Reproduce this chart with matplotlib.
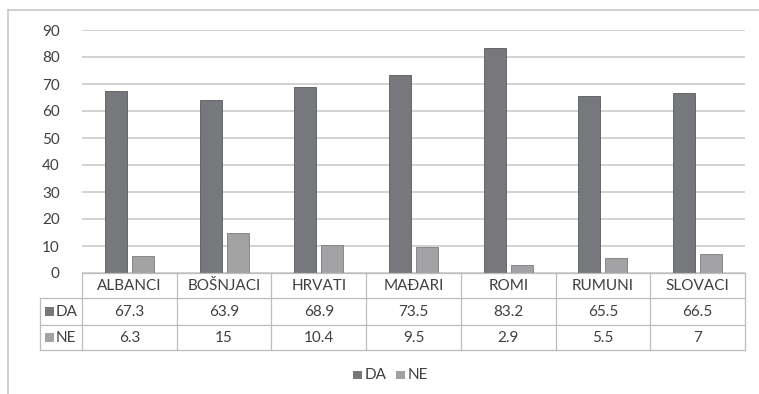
import matplotlib.pyplot as plt
from matplotlib.lines import Line2D
from matplotlib.patches import Rectangle

plt.rcParams['font.family'] = ['Lato', 'DejaVu Sans']

groups = ['ALBANCI', 'BOŠNJACI', 'HRVATI', 'MAĐARI', 'ROMI', 'RUMUNI', 'SLOVACI']
da = [67.3, 63.9, 68.9, 73.5, 83.2, 65.5, 66.5]
ne = [6.3, 15, 10.4, 9.5, 2.9, 5.5, 7]
series_names = ['DA', 'NE']
yticks = [0, 10, 20, 30, 40, 50, 60, 70, 80, 90]

W, H = 759, 394
c_da = '#77787b'
c_ne = '#a2a2a4'
c_grid = '#c6c6c6'
c_text = '#404040'
fs = 11

fig = plt.figure(figsize=(W / 100, H / 100), dpi=100)


def fx(px):
    return px / W


def fy(py):
    return 1 - py / H


# plot area in pixels
left, right, top, base = 82, 745, 30, 273
ax = fig.add_axes([fx(left), fy(base), fx(right - left), fy(top) - fy(base)])

n = len(groups)
x = list(range(n))
bw = 0.232
ax.bar([i - 0.143 for i in x], da, bw, color=c_da, edgecolor='#58595b', linewidth=0.6, zorder=3)
ax.bar([i + 0.143 for i in x], ne, bw, color=c_ne, edgecolor='#7c7c7e', linewidth=0.6, zorder=3)

ax.set_xlim(-0.5, n - 0.5)
ax.set_ylim(0, 90)
ax.set_yticks(yticks)
ax.set_yticklabels([str(t) for t in yticks], fontsize=fs, color=c_text)
ax.yaxis.grid(True, color=c_grid, linewidth=1.1, zorder=0)
ax.tick_params(axis='y', length=0, pad=16)
ax.set_xticks([])
for s in ax.spines.values():
    s.set_visible(False)

# data table under the axis
cw = (right - left) / n
rows = [273, 298, 325, 350]
lbl_left = 40
tbl_lw = 0.9
tbl_c = '#bdbdbd'


def hline(y, x0, x1):
    fig.add_artist(Line2D([fx(x0), fx(x1)], [fy(y), fy(y)], color=tbl_c, lw=tbl_lw))


def vline(xp, y0, y1):
    fig.add_artist(Line2D([fx(xp), fx(xp)], [fy(y0), fy(y1)], color=tbl_c, lw=tbl_lw))


hline(rows[0], left, right)
for r in rows[1:]:
    hline(r, lbl_left, right)
for k in range(n + 1):
    vline(left + k * cw, rows[0], rows[3])
vline(lbl_left, rows[1], rows[3])

for k, g in enumerate(groups):
    cx = left + (k + 0.5) * cw
    fig.text(fx(cx), fy((rows[0] + rows[1]) / 2), g, ha='center', va='center',
             fontsize=fs, color=c_text)
    fig.text(fx(cx), fy((rows[1] + rows[2]) / 2), f'{da[k]:g}', ha='center', va='center',
             fontsize=fs, color=c_text)
    fig.text(fx(cx), fy((rows[2] + rows[3]) / 2), f'{ne[k]:g}', ha='center', va='center',
             fontsize=fs, color=c_text)

for j, (name, col) in enumerate(zip(series_names, [c_da, c_ne])):
    yc = (rows[1 + j] + rows[2 + j]) / 2
    fig.add_artist(Rectangle((fx(45), fy(yc + 4.5)), fx(9), fy(yc - 4.5) - fy(yc + 4.5),
                             facecolor=col, edgecolor='none'))
    fig.text(fx(56), fy(yc), name, ha='left', va='center', fontsize=fs, color=c_text)

# legend
ly = 375
for name, col, sx in zip(series_names, [c_da, c_ne], [353, 396]):
    fig.add_artist(Rectangle((fx(sx), fy(ly + 4)), fx(9), fy(ly - 4) - fy(ly + 4),
                             facecolor=col, edgecolor='none'))
    fig.text(fx(sx + 12), fy(ly), name, ha='left', va='center', fontsize=fs, color=c_text)

# chart frame
fig.add_artist(Line2D([fx(8), fx(W)], [fy(10), fy(10)], color='#c8c8c8', lw=1.2))
fig.add_artist(Line2D([fx(8), fx(8)], [fy(10), fy(H)], color='#c8c8c8', lw=1.2))

fig.savefig('out.png', dpi=100)
